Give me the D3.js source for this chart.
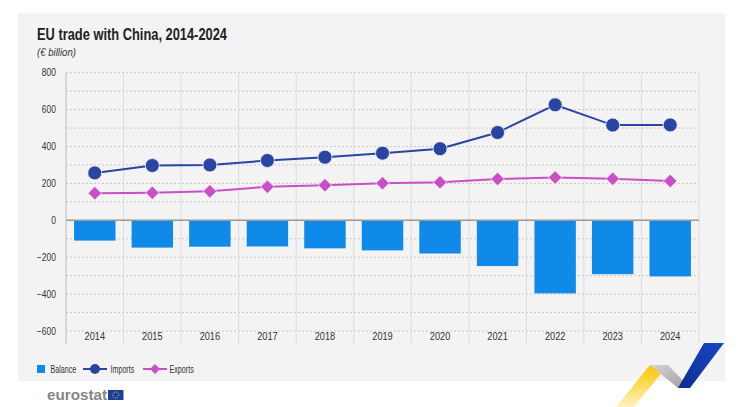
<!DOCTYPE html>
<html>
<head>
<meta charset="utf-8">
<script src="https://cdn.jsdelivr.net/npm/d3@7"></script>
<style>
  body { margin: 0; background: #fff; }
  svg { display: block; font-family: "Liberation Sans", Arial, sans-serif; }
</style>
</head>
<body>
<svg></svg>
<script>
var width = 740,
    height = 407;

// data (€ billion)
var years = ["2014", "2015", "2016", "2017", "2018", "2019", "2020", "2021", "2022", "2023", "2024"];
var balance = [-110, -148, -143, -142, -152, -163, -180, -248, -396, -292, -304];
var imports = [257, 297, 300, 324, 342, 364, 388, 476, 626, 516, 517];
var exports = [147, 149, 157, 182, 190, 201, 206, 224, 232, 225, 213];
var yTicks = [800, 600, 400, 200, 0, -200, -400, -600];

var colBar = "#0f8ae8", colImp = "#2a44a4", colExp = "#c94fc6";

// squeeze text horizontally, the original uses a condensed face
function condense(sel, f) {
    sel.each(function () {
        var w = this.getComputedTextLength();
        d3.select(this).attr("textLength", w * f).attr("lengthAdjust", "spacingAndGlyphs");
    });
}

var svg = d3.select("svg")
    .attr("width", width)
    .attr("height", height);

// grey panel
svg.append("rect").attr("x", 18).attr("y", 13).attr("width", 707).attr("height", 368).attr("fill", "#f3f3f3");

svg.append("text").attr("x", 37).attr("y", 40)
    .attr("font-size", 17).attr("font-weight", "bold").attr("fill", "#222")
    .attr("textLength", 190).attr("lengthAdjust", "spacingAndGlyphs")
    .text("EU trade with China, 2014-2024");
svg.append("text").attr("x", 37).attr("y", 56)
    .attr("font-size", 10).attr("font-style", "italic").attr("fill", "#333")
    .attr("textLength", 39).attr("lengthAdjust", "spacingAndGlyphs")
    .text("(€ billion)");

var left = 66, right = 699, bottom = 344;
var x = d3.scaleBand().domain(years).range([left, right]).paddingInner(0.28).paddingOuter(0.14);
var band = d3.scaleBand().domain(years).range([left, right]);
var y = d3.scaleLinear().domain([-600, 800]).range([331, 72.7]);

var g = svg.append("g");

// horizontal dotted gridlines every 100
g.selectAll("line.h").data(d3.range(-600, 801, 100)).enter().append("line")
    .attr("x1", left).attr("x2", right)
    .attr("y1", d => y(d)).attr("y2", d => y(d))
    .attr("stroke", "#c8c8c8").attr("stroke-width", 1).attr("stroke-dasharray", "2,2");

// vertical separators
g.selectAll("line.v").data(years).enter().append("line")
    .attr("x1", d => band(d) + band.bandwidth())
    .attr("x2", d => band(d) + band.bandwidth())
    .attr("y1", y(800)).attr("y2", bottom)
    .attr("stroke", "#dcdcdc").attr("stroke-width", 1);

// left axis line
g.append("line").attr("x1", left).attr("x2", left).attr("y1", y(800)).attr("y2", bottom)
    .attr("stroke", "#bdbdbd").attr("stroke-width", 1);

// y tick labels
var yAxis = d3.axisLeft(y).tickValues(yTicks).tickSize(0).tickPadding(10);
var ya = svg.append("g").attr("transform", "translate(" + left + ",0)").call(yAxis)
    .attr("font-family", null).attr("font-size", null);
ya.select(".domain").remove();
ya.selectAll("text").attr("font-size", 10).attr("fill", "#333");
condense(ya.selectAll("text"), 0.85);

// bars
g.selectAll("rect.bar").data(balance).enter().append("rect")
    .attr("x", (d, i) => x(years[i]))
    .attr("width", x.bandwidth())
    .attr("y", d => y(Math.max(0, d)))
    .attr("height", d => Math.abs(y(d) - y(0)))
    .attr("fill", colBar);

// zero line
g.append("line").attr("x1", left).attr("x2", right).attr("y1", y(0)).attr("y2", y(0))
    .attr("stroke", "#9a9a9a").attr("stroke-width", 1.5);

// x labels
var xAxis = d3.axisBottom(band).tickSize(0).tickPadding(0);
var xa = svg.append("g").attr("transform", "translate(0,333)").call(xAxis)
    .attr("font-family", null).attr("font-size", null);
xa.select(".domain").remove();
xa.selectAll("text").attr("font-size", 10).attr("fill", "#333").attr("dy", "0.71em");
condense(xa.selectAll("text"), 0.92);

var cx = (d, i) => band(years[i]) + band.bandwidth() / 2;
var line = d3.line().x((d, i) => cx(d, i)).y(d => y(d));
var diamondPath = s => "M0," + (-s) + "L" + s + ",0L0," + s + "L" + (-s) + ",0Z";

// exports
svg.append("path").datum(exports).attr("d", line).attr("fill", "none").attr("stroke", colExp).attr("stroke-width", 2);
svg.selectAll("path.exp").data(exports).enter().append("path")
    .attr("d", diamondPath(6.8))
    .attr("transform", (d, i) => "translate(" + cx(d, i) + "," + y(d) + ")")
    .attr("fill", colExp).attr("stroke", "#f3f3f3").attr("stroke-width", 0.8);

// imports
svg.append("path").datum(imports).attr("d", line).attr("fill", "none").attr("stroke", colImp).attr("stroke-width", 2);
svg.selectAll("circle.imp").data(imports).enter().append("circle")
    .attr("cx", cx).attr("cy", d => y(d)).attr("r", 7)
    .attr("fill", colImp).attr("stroke", "#f3f3f3").attr("stroke-width", 0.8);

// legend
var lg = svg.append("g").attr("font-size", 10.5).attr("fill", "#333");
lg.append("rect").attr("x", 37).attr("y", 365).attr("width", 8).attr("height", 8).attr("fill", colBar);
lg.append("text").attr("x", 50.5).attr("y", 372.7).text("Balance");
lg.append("line").attr("x1", 83).attr("x2", 107).attr("y1", 369).attr("y2", 369).attr("stroke", colImp).attr("stroke-width", 2);
lg.append("circle").attr("cx", 95).attr("cy", 369).attr("r", 5).attr("fill", colImp);
lg.append("text").attr("x", 110.5).attr("y", 372.7).text("Imports");
lg.append("line").attr("x1", 143).attr("x2", 167).attr("y1", 369).attr("y2", 369).attr("stroke", colExp).attr("stroke-width", 2);
lg.append("path").attr("d", diamondPath(5)).attr("transform", "translate(155,369)").attr("fill", colExp);
lg.append("text").attr("x", 169.5).attr("y", 372.7).text("Exports");
condense(lg.selectAll("text"), 0.68);

// eurostat logo
svg.append("text").attr("x", 47).attr("y", 400)
    .attr("font-size", 15).attr("font-weight", "bold").attr("fill", "#868686")
    .attr("textLength", 60).attr("lengthAdjust", "spacingAndGlyphs").text("eurostat");
svg.append("rect").attr("x", 108).attr("y", 390).attr("width", 15.5).attr("height", 10).attr("fill", "#1a3fa0");
svg.append("circle").attr("cx", 115.8).attr("cy", 395).attr("r", 3).attr("fill", "none")
    .attr("stroke", "#f5d000").attr("stroke-width", 1).attr("stroke-dasharray", "1,1");

// decoration ribbon
var defs = svg.append("defs");
var gy = defs.append("linearGradient").attr("id", "gy").attr("x1", 0).attr("y1", 0).attr("x2", 0).attr("y2", 1);
gy.append("stop").attr("offset", "0").attr("stop-color", "#fcc400");
gy.append("stop").attr("offset", "1").attr("stop-color", "#fff3c0");
var gg = defs.append("linearGradient").attr("id", "gg").attr("x1", 0).attr("y1", 0).attr("x2", 1).attr("y2", 1);
gg.append("stop").attr("offset", "0").attr("stop-color", "#d6d6d6");
gg.append("stop").attr("offset", "1").attr("stop-color", "#9c9c9c");
var gb = defs.append("linearGradient").attr("id", "gb").attr("x1", 1).attr("y1", 0).attr("x2", 0).attr("y2", 1);
gb.append("stop").attr("offset", "0").attr("stop-color", "#1848c8");
gb.append("stop").attr("offset", "1").attr("stop-color", "#0a2d90");
svg.append("polygon").attr("points", "650,365 668,365 634,407 616,407").attr("fill", "url(#gy)");
svg.append("polygon").attr("points", "650,365 668,365 690,388 678,388").attr("fill", "url(#gg)");
svg.append("polygon").attr("points", "704,343 724,343 690,388 678,388").attr("fill", "url(#gb)");
</script>
</body>
</html>
